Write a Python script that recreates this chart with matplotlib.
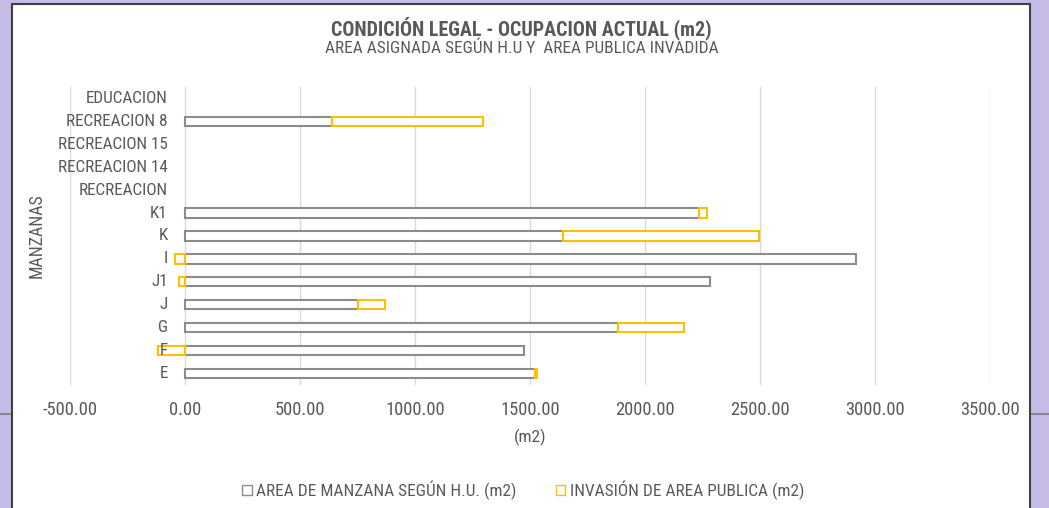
import numpy as np
import matplotlib.pyplot as plt
from matplotlib.patches import Rectangle
from matplotlib.lines import Line2D

# data (bottom to top)
manzanas = ['E', 'F', 'G', 'J', 'J1', 'I', 'K', 'K1', 'RECREACION',
            'RECREACION 14', 'RECREACION 15', 'RECREACION 8', 'EDUCACION']
area_hu = [1522, 1474, 1883, 753, 2281, 2918, 1642, 2234, 0, 0, 0, 639, 0]
invasion = [10, -119, 287, 115, -25, -43, 855, 36, 0, 0, 0, 657, 0]
xticks = [-500, 0, 500, 1000, 1500, 2000, 2500, 3000, 3500]

TXT = '#595959'
GRAY = '#8c8c8c'
GOLD = '#ffc000'

plt.rcParams['font.family'] = ['Roboto Condensed', 'DejaVu Sans']

fig = plt.figure(figsize=(10.49, 5.08), dpi=100)
fig.patch.set_facecolor('#c5bbe6')
# faint line across the page margin behind the chart
fig.lines.append(Line2D([0, 1], [1 - 414 / 508] * 2, transform=fig.transFigure,
                        color='#7f7f7f', linewidth=1.2, zorder=-6))
# white chart panel with dark border
fig.patches.append(Rectangle((12 / 1049, -0.01), (1030 - 12) / 1049, 1 - 4 / 508 + 0.01,
                             transform=fig.transFigure, facecolor='white',
                             edgecolor='#404040', linewidth=1.5, zorder=-5))

ax = fig.add_axes([70 / 1049, 1 - 385 / 508, (990 - 70) / 1049, (385 - 87) / 508])
ax.set_facecolor('none')

y = np.arange(len(manzanas))
area_hu = np.array(area_hu, dtype=float)
invasion = np.array(invasion, dtype=float)
left_inv = np.where(invasion >= 0, area_hu, 0)
# empty categories draw nothing
area_plot = np.where(area_hu == 0, np.nan, area_hu)
inv_plot = np.where(invasion == 0, np.nan, invasion)

h = 0.4
ax.barh(y, area_plot, height=h, color='white', edgecolor=GRAY, linewidth=1.5,
        label='AREA DE MANZANA SEGÚN H.U. (m2)', zorder=3)
ax.barh(y, inv_plot, left=left_inv, height=h, color='white', edgecolor=GOLD, linewidth=1.5,
        label='INVASIÓN DE AREA PUBLICA (m2)', zorder=3)

ax.set_xlim(-500, 3500)
ax.set_ylim(-0.5, len(manzanas) - 0.5)
ax.set_xticks(xticks)
ax.set_xticklabels([f'{v:.2f}' for v in xticks], fontsize=13.3, color=TXT)
ax.set_yticks(y)
ax.set_yticklabels([])
ax.tick_params(length=0, pad=11.5)
ax.grid(axis='x', color='#d9d9d9', linewidth=1, zorder=0)
for s in ax.spines.values():
    s.set_visible(False)

# category labels sit next to the value axis crossing (x = 0), as in Excel
for yi, name in zip(y, manzanas):
    ax.annotate(name, xy=(0, yi), xytext=(-12.5, 0), textcoords='offset points',
                ha='right', va='center', fontsize=12.3, color=TXT, zorder=4)

ax.set_xlabel('(m2)', fontsize=12.5, color=TXT, labelpad=7)
fig.text(37 / 1049, 1 - 236 / 508, 'MANZANAS', rotation=90, ha='center', va='center',
         fontsize=12.8, color=TXT)

fig.text(521 / 1049, 1 - 28.5 / 508, 'CONDICIÓN LEGAL - OCUPACION ACTUAL (m2)', ha='center',
         va='center', fontsize=14.4, fontweight='bold', color=TXT)
fig.text(522 / 1049, 1 - 48.5 / 508, 'AREA ASIGNADA SEGÚN H.U Y  AREA PUBLICA INVADIDA',
         ha='center', va='center', fontsize=12.45, color=TXT)

leg = fig.legend(loc='center', bbox_to_anchor=(523 / 1049, 1 - 490 / 508), ncol=2,
                 frameon=False, fontsize=12.4, handlelength=0.55, handleheight=0.55,
                 handletextpad=0.25, columnspacing=2.3)
for t in leg.get_texts():
    t.set_color(TXT)
for p in leg.get_patches():
    p.set_linewidth(1.0)

fig.savefig('out.png', dpi=100)
